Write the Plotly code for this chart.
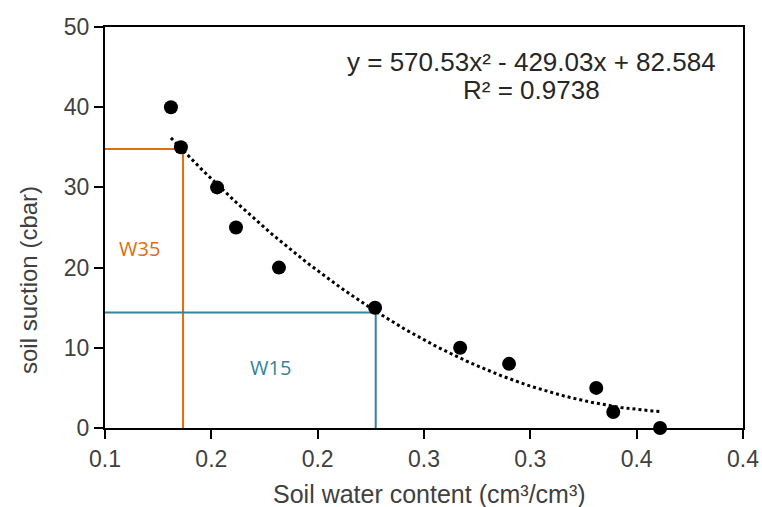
import numpy as np
import plotly.graph_objects as go

# Data
water_content = [0.131, 0.1357, 0.1527, 0.1616, 0.1818, 0.227, 0.267, 0.290, 0.331, 0.339, 0.361]
soil_suction = [40, 35, 30, 25, 20, 15, 10, 8, 5, 2, 0]

# Polynomial trendline coefficients (as displayed)
fit_coeffs = [570.53, -429.03, 82.584]
r_squared = 0.9738

# Reference lines: W35 and W15
w35_x, w35_y = 0.1367, 34.8
w15_x, w15_y = 0.2273, 14.4

x_tickvals = [0.10, 0.15, 0.20, 0.25, 0.30, 0.35, 0.40]
x_ticktext = ["0.1", "0.2", "0.2", "0.3", "0.3", "0.4", "0.4"]
y_tickvals = [0, 10, 20, 30, 40, 50]

ORANGE = "#E46C0A"
TEAL = "#31849B"
TXT = "#404040"
FONT = "Liberation Sans, Arial, sans-serif"

W, H = 762, 507
ML, MR, MT, MB = 105, 19, 27, 79
PW, PH = W - ML - MR, H - MT - MB


def px_x(px):
    return (px - ML) / PW


def px_y(py):
    return (H - MB - py) / PH


xfit = np.linspace(min(water_content), max(water_content), 200)
yfit = np.polyval(fit_coeffs, xfit)

fig = go.Figure()

# reference lines
fig.add_trace(go.Scatter(x=[0.1, w35_x, w35_x], y=[w35_y, w35_y, 0], mode="lines",
                         line=dict(color=ORANGE, width=2), hoverinfo="skip"))
fig.add_trace(go.Scatter(x=[0.1, w15_x, w15_x], y=[w15_y, w15_y, 0], mode="lines",
                         line=dict(color=TEAL, width=2), hoverinfo="skip"))

# trendline
fig.add_trace(go.Scatter(x=xfit, y=yfit, mode="lines",
                         line=dict(color="black", width=3, dash="dot")))

# data points
fig.add_trace(go.Scatter(x=water_content, y=soil_suction, mode="markers",
                         marker=dict(color="black", size=14), cliponaxis=False))

fig.add_annotation(x=0.116, y=22.4, xref="x", yref="y",
                   text="W35", showarrow=False, xanchor="center", yanchor="middle",
                   font=dict(family="Open Sans", size=20, color=ORANGE))
fig.add_annotation(x=0.1776, y=7.6, xref="x", yref="y",
                   text="W15", showarrow=False, xanchor="center", yanchor="middle",
                   font=dict(family="Open Sans", size=20, color=TEAL))

eq_text = "y = %.2fx² - %.2fx + %.3f" % (fit_coeffs[0], -fit_coeffs[1], fit_coeffs[2])
fig.add_annotation(x=0.3004, y=45.6, xref="x", yref="y", text=eq_text, showarrow=False,
                   xanchor="center", yanchor="middle",
                   font=dict(family=FONT, size=26, color="#262626"))
fig.add_annotation(x=0.3004, y=42.1, xref="x", yref="y",
                   text="R² = %.4f" % r_squared, showarrow=False,
                   xanchor="center", yanchor="middle",
                   font=dict(family=FONT, size=26, color="#262626"))

# axis titles
fig.add_annotation(x=px_x(429), y=px_y(494), xref="paper", yref="paper",
                   text="Soil water content (cm³/cm³)", showarrow=False,
                   xanchor="center", yanchor="middle",
                   font=dict(family=FONT, size=25, color=TXT))
fig.add_annotation(x=px_x(28), y=px_y(280), xref="paper", yref="paper",
                   text="soil suction (cbar)", showarrow=False, textangle=-90,
                   xanchor="center", yanchor="middle",
                   font=dict(family=FONT, size=24, color=TXT))

fig.update_layout(
    width=W, height=H,
    margin=dict(l=ML, r=MR, t=MT, b=MB, autoexpand=False),
    plot_bgcolor="white", paper_bgcolor="white",
    showlegend=False,
    font=dict(family=FONT, color=TXT),
)
fig.update_xaxes(
    range=[0.1, 0.4], tickvals=x_tickvals, ticktext=x_ticktext,
    showgrid=False, zeroline=False, automargin=False,
    showline=True, linecolor="black", linewidth=2, mirror=True,
    ticks="outside", ticklen=9, tickwidth=2, tickcolor="black",
    tickfont=dict(family=FONT, size=23, color=TXT),
)
fig.update_yaxes(
    range=[0, 50], tickvals=y_tickvals,
    showgrid=False, zeroline=False, automargin=False,
    showline=True, linecolor="black", linewidth=2, mirror=True,
    ticks="outside", ticklen=9, tickwidth=2, tickcolor="black",
    tickfont=dict(family=FONT, size=23, color=TXT),
)

fig.write_html("out.html")
